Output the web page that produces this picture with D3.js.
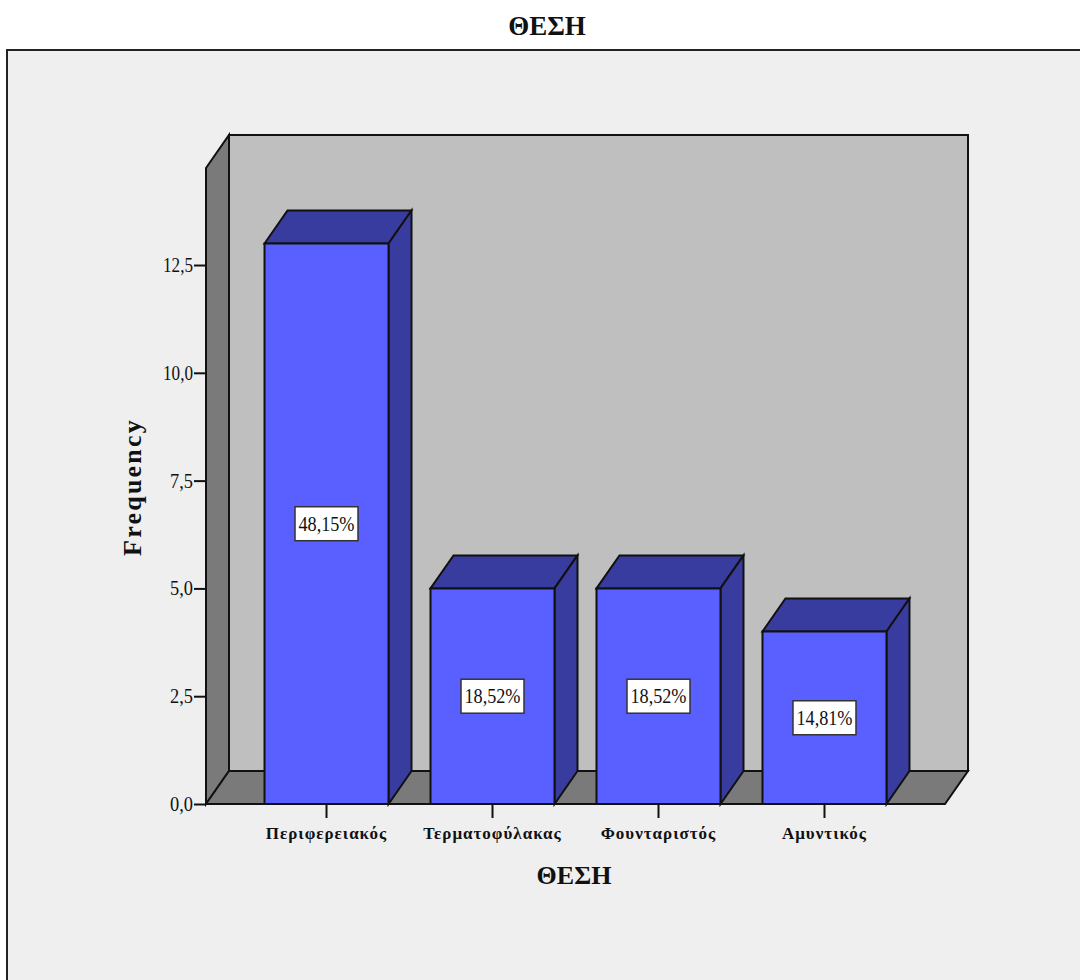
<!DOCTYPE html>
<html>
<head>
<meta charset="utf-8">
<script src="https://cdn.jsdelivr.net/npm/d3@7"></script>
<style>
  html, body { margin: 0; padding: 0; background: #fff; }
  svg { display: block; }
  text { font-family: "Liberation Serif", serif; fill: #111; }
</style>
</head>
<body>
<svg id="chart" width="1080" height="980"></svg>
<script>
const chartTitle = "ΘΕΣΗ";
const categories = ["Περιφερειακός", "Τερματοφύλακας", "Φουνταριστός", "Αμυντικός"];
const frequencies = [13, 5, 5, 4];
const percentLabels = ["48,15%", "18,52%", "18,52%", "14,81%"];
const yTicks = [0, 2.5, 5, 7.5, 10, 12.5];

const svg = d3.select("#chart");
const W = 1080, H = 980;
const floorLeft = 206, floorRight = 945, floorY = 804, wallTop = 168;
const depthX = 23, depthY = -33;   // oblique offset of the back plane
const line = "#111";

const x = d3.scaleBand().domain(categories).range([floorLeft, floorRight])
  .paddingInner(0.253).paddingOuter(0.3525);
const y = d3.scaleLinear().domain([0, 14.75]).range([floorY, wallTop]);

const poly = (pts, fill, sw = 2) => svg.append("polygon")
  .attr("points", pts.map(p => p.join(",")).join(" "))
  .attr("fill", fill).attr("stroke", line).attr("stroke-width", sw)
  .attr("stroke-linejoin", "miter");

// Chart frame
svg.append("rect").attr("x", 7).attr("y", 50).attr("width", W + 10).attr("height", H + 10)
  .attr("fill", "#efefef").attr("stroke", "#222").attr("stroke-width", 2);

svg.append("text").attr("x", 547).attr("y", 35).attr("text-anchor", "middle")
  .attr("font-weight", "bold").attr("font-size", 27).text(chartTitle);

// Walls and floor of the 3D box
const yTop = y.range()[1];
poly([[floorLeft + depthX, yTop + depthY], [floorRight + depthX, yTop + depthY],
      [floorRight + depthX, floorY + depthY], [floorLeft + depthX, floorY + depthY]], "#bfbfbf");
poly([[floorLeft, yTop], [floorLeft + depthX, yTop + depthY],
      [floorLeft + depthX, floorY + depthY], [floorLeft, floorY]], "#7a7a7a");
poly([[floorLeft, floorY], [floorLeft + depthX, floorY + depthY],
      [floorRight + depthX, floorY + depthY], [floorRight, floorY]], "#7a7a7a");

// Value axis: the serif numerals are drawn tall and narrow
const yAxis = svg.append("g").attr("transform", `translate(${floorLeft},0)`)
  .call(d3.axisLeft(y).tickValues(yTicks).tickSize(12).tickPadding(1)
    .tickFormat(d => d3.format(".1f")(d).replace(".", ",")));
yAxis.select(".domain").remove();
yAxis.selectAll("line").attr("stroke", line).attr("stroke-width", 2);
yAxis.selectAll("text").attr("font-family", '"Liberation Serif", serif')
  .attr("font-size", 20).attr("fill", "#222")
  .attr("textLength", function () { return this.textContent.length === 4 ? 30 : 23; })
  .attr("lengthAdjust", "spacingAndGlyphs");

// Category axis
const xAxis = svg.append("g").attr("transform", `translate(0,${floorY})`)
  .call(d3.axisBottom(x).tickSize(14).tickPadding(9));
xAxis.select(".domain").remove();
xAxis.selectAll("line").attr("stroke", line).attr("stroke-width", 2);
xAxis.selectAll("text").attr("font-family", '"Liberation Serif", serif')
  .attr("font-size", 17).attr("font-weight", "bold").attr("fill", "#222")
  .attr("letter-spacing", 1);

// Bars: top and side faces first, then the front
categories.forEach((c, i) => {
  const x0 = x(c), x1 = x0 + x.bandwidth(), yv = y(frequencies[i]);
  poly([[x0, yv], [x0 + depthX, yv + depthY], [x1 + depthX, yv + depthY], [x1, yv]], "#383c9e");
  poly([[x1, yv], [x1 + depthX, yv + depthY], [x1 + depthX, floorY + depthY], [x1, floorY]], "#383c9e");
  poly([[x0, yv], [x1, yv], [x1, floorY], [x0, floorY]], "#5a60ff");
});

// Floor front edge over the bar bases
svg.append("line").attr("x1", floorLeft).attr("x2", floorRight)
  .attr("y1", floorY).attr("y2", floorY).attr("stroke", line).attr("stroke-width", 2);

// Percentage labels centred on each bar
categories.forEach((c, i) => {
  const cx = x(c) + x.bandwidth() / 2, cy = y(frequencies[i] / 2);
  svg.append("rect").attr("x", cx - 31.5).attr("y", cy - 17).attr("width", 63).attr("height", 34)
    .attr("fill", "#fff").attr("stroke", "#333").attr("stroke-width", 1.5);
  svg.append("text").attr("x", cx).attr("y", cy + 7).attr("text-anchor", "middle")
    .attr("font-size", 21).attr("textLength", 56).attr("lengthAdjust", "spacingAndGlyphs")
    .text(percentLabels[i]);
});

// Axis titles
svg.append("text").attr("x", 574).attr("y", 884).attr("text-anchor", "middle")
  .attr("font-weight", "bold").attr("font-size", 26).text("ΘΕΣΗ");
svg.append("text").attr("transform", "translate(141,487) rotate(-90)").attr("text-anchor", "middle")
  .attr("font-weight", "bold").attr("font-size", 26).attr("letter-spacing", 2.2).text("Frequency");
</script>
</body>
</html>
